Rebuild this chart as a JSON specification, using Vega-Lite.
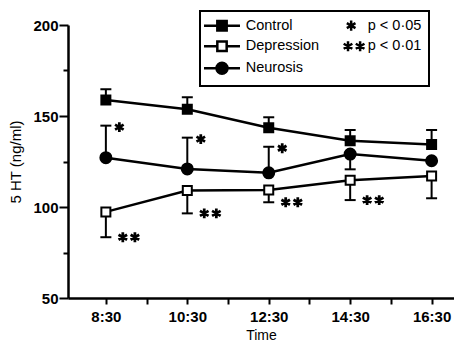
{
  "$schema": "https://vega.github.io/schema/vega-lite/v6.json",
  "width": 386,
  "height": 273,
  "autosize": {"type": "none"},
  "padding": {"left": 68, "top": 25, "right": 0, "bottom": 45},
  "config": {"font": "Liberation Sans", "view": {"stroke": null}, "legend": {"strokeWidth": 2}},
  "data": {
    "values": [
      {"time": 8.5, "series": "Control", "value": 158.8, "err": 164.7},
      {"time": 10.5, "series": "Control", "value": 153.7, "err": 160.3},
      {"time": 12.5, "series": "Control", "value": 143.6, "err": 149.3},
      {"time": 14.5, "series": "Control", "value": 136.4, "err": 142.3},
      {"time": 16.5, "series": "Control", "value": 134.4, "err": 142.3},
      {"time": 8.5, "series": "Depression", "value": 97.3, "err": 83.4, "sig": "**"},
      {"time": 10.5, "series": "Depression", "value": 109.0, "err": 96.5, "sig": "**"},
      {"time": 12.5, "series": "Depression", "value": 109.3, "err": 102.6, "sig": "**"},
      {"time": 14.5, "series": "Depression", "value": 114.7, "err": 103.8, "sig": "**"},
      {"time": 16.5, "series": "Depression", "value": 117.0, "err": 104.8},
      {"time": 8.5, "series": "Neurosis", "value": 127.1, "err": 144.7, "sig": "*"},
      {"time": 10.5, "series": "Neurosis", "value": 120.9, "err": 138.1, "sig": "*"},
      {"time": 12.5, "series": "Neurosis", "value": 118.8, "err": 133.1, "sig": "*"},
      {"time": 14.5, "series": "Neurosis", "value": 129.1, "err": 120.7},
      {"time": 16.5, "series": "Neurosis", "value": 125.4}
    ]
  },
  "encoding": {
    "x": {
      "field": "time",
      "type": "quantitative",
      "scale": {"domain": [7.57, 17.05], "nice": false, "zero": false},
      "axis": {
        "title": "Time",
        "values": [8.5, 9.5, 10.5, 11.5, 12.5, 13.5, 14.5, 15.5, 16.5],
        "labelExpr": "(datum.value - 8.5) % 2 === 0 ? floor(datum.value) + ':30' : ''",
        "grid": false,
        "domainColor": "black",
        "domainWidth": 2.5,
        "tickColor": "black",
        "tickWidth": 2,
        "tickSize": 6,
        "labelFontSize": 15,
        "labelFontWeight": "bold",
        "labelColor": "black",
        "labelPadding": 5,
        "labelFlush": false,
        "labelOverlap": false,
        "titleFontSize": 14,
        "titleFontWeight": "normal",
        "titleColor": "black",
        "titlePadding": 4
      }
    },
    "y": {
      "field": "value",
      "type": "quantitative",
      "title": "5 HT (ng/ml)",
      "scale": {"domain": [50, 200], "nice": false, "zero": false},
      "axis": {
        "values": [50, 75, 100, 125, 150, 175, 200],
        "labelExpr": "datum.value % 50 === 0 ? datum.label : ''",
        "grid": false,
        "domainColor": "black",
        "domainWidth": 2.5,
        "tickColor": "black",
        "tickWidth": 2,
        "tickSize": {"condition": {"test": "datum.value % 50 === 0", "value": 9}, "value": 5},
        "labelFontSize": 15,
        "labelFontWeight": "bold",
        "labelColor": "black",
        "labelPadding": 1,
        "titleFontSize": 15,
        "titleFontWeight": "normal",
        "titleColor": "black",
        "titlePadding": 9
      }
    }
  },
  "layer": [
    {
      "transform": [{"filter": "datum.err != null"}],
      "mark": {"type": "rule", "color": "black", "strokeWidth": 2},
      "encoding": {"y2": {"field": "err"}}
    },
    {
      "transform": [{"filter": "datum.err != null"}],
      "mark": {"type": "point", "shape": "stroke", "size": 121, "filled": false, "color": "black", "strokeWidth": 2, "opacity": 1},
      "encoding": {"y": {"field": "err", "type": "quantitative", "title": "5 HT (ng/ml)"}}
    },
    {
      "mark": {"type": "line", "color": "black", "strokeWidth": 2.5},
      "encoding": {"detail": {"field": "series"}}
    },
    {
      "transform": [{"filter": "datum.series !== 'Neurosis'"}],
      "mark": {"type": "point", "shape": "square", "size": 81, "filled": true, "stroke": "black", "strokeWidth": 2, "opacity": 1},
      "encoding": {
        "fill": {"condition": {"test": "datum.series === 'Depression'", "value": "white"}, "value": "black"}
      }
    },
    {
      "transform": [{"filter": "datum.series === 'Neurosis'"}],
      "mark": {"type": "point", "shape": "circle", "size": 121, "filled": true, "color": "black", "stroke": "black", "strokeWidth": 2, "opacity": 1}
    },
    {
      "transform": [{"filter": "datum.sig === '*'"}],
      "mark": {
        "type": "point",
        "shape": "M2.2,-0.63L2.7,-0.63L2.7,1.17L2.2,1.17ZM1.546,0.036L1.796,-0.397L3.354,0.504L3.104,0.937ZM3.104,-0.397L3.354,0.036L1.796,0.937L1.546,0.504Z",
        "size": 121,
        "filled": true,
        "color": "black",
        "strokeWidth": 0,
        "opacity": 1
      },
      "encoding": {"y": {"field": "err", "type": "quantitative", "title": "5 HT (ng/ml)"}}
    },
    {
      "transform": [{"filter": "datum.sig === '**'"}],
      "mark": {
        "type": "point",
        "shape": "M2.83,-0.9L3.33,-0.9L3.33,0.9L2.83,0.9ZM2.176,-0.234L2.426,-0.667L3.984,0.234L3.734,0.667ZM3.734,-0.667L3.984,-0.234L2.426,0.667L2.176,0.234ZM5.03,-0.9L5.53,-0.9L5.53,0.9L5.03,0.9ZM4.376,-0.234L4.626,-0.667L6.184,0.234L5.934,0.667ZM5.934,-0.667L6.184,-0.234L4.626,0.667L4.376,0.234Z",
        "size": 121,
        "filled": true,
        "color": "black",
        "strokeWidth": 0,
        "opacity": 1
      },
      "encoding": {"y": {"field": "err", "type": "quantitative", "title": "5 HT (ng/ml)"}}
    },
    {
      "transform": [{"filter": "false"}],
      "mark": {"type": "point", "filled": true, "strokeWidth": 2.5, "opacity": 1},
      "encoding": {
        "shape": {
          "field": "series",
          "type": "nominal",
          "scale": {
            "domain": ["Control", "Depression", "Neurosis", "p < 0·05", "p < 0·01"],
            "range": [
              "M-3.27,0H-0.85M0.85,0H3.27M-0.85,-0.85H0.85V0.85H-0.85Z",
              "M-3.27,0H-0.85M0.85,0H3.27M-0.85,-0.85H0.85V0.85H-0.85Z",
              "M-3.27,0H-1M1,0H3.27M-1,0A1,1,0,1,0,1,0A1,1,0,1,0,-1,0Z",
              "M-3.27,0M1.3,-0.91V0.91M0.512,-0.455L2.088,0.455M2.088,-0.455L0.512,0.455",
              "M-3.27,0M0.73,-0.91V0.91M-0.058,-0.455L1.518,0.455M1.518,-0.455L-0.058,0.455M2.93,-0.91V0.91M2.142,-0.455L3.718,0.455M3.718,-0.455L2.142,0.455"
            ]
          },
          "legend": {
            "title": null,
            "orient": "none",
            "legendX": 132,
            "legendY": -14,
            "columns": 2,
            "columnPadding": 1,
            "rowPadding": 0,
            "padding": 7,
            "strokeColor": "black",
            "symbolSize": 121,
            "symbolOffset": 7.75,
            "symbolStrokeWidth": 2.5,
            "labelOffset": 16.5,
            "labelFontSize": 14.5,
            "labelColor": "black",
            "labelLimit": 0
          }
        },
        "fill": {
          "field": "series",
          "type": "nominal",
          "scale": {
            "domain": ["Control", "Depression", "Neurosis", "p < 0·05", "p < 0·01"],
            "range": ["black", "white", "black", "black", "black"]
          }
        },
        "stroke": {
          "field": "series",
          "type": "nominal",
          "scale": {
            "domain": ["Control", "Depression", "Neurosis", "p < 0·05", "p < 0·01"],
            "range": ["black", "black", "black", "black", "black"]
          }
        }
      }
    }
  ]
}
